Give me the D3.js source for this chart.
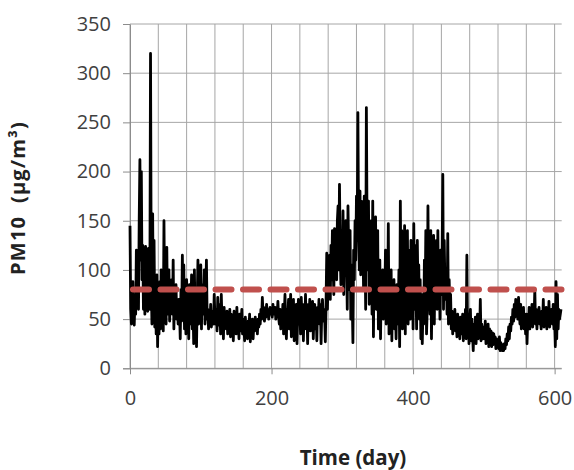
<!DOCTYPE html>
<html>
<head>
<meta charset="utf-8">
<script src="https://cdn.jsdelivr.net/npm/d3@7"></script>
<style>
  body { margin: 0; background: #fff; }
  svg { display: block; font-family: "Open Sans", sans-serif; }
</style>
</head>
<body>
<svg id="chart" width="574" height="470"></svg>
<script>
// daily PM10, day 0 .. 609 (20 days per row)
const pm10 = [
  145, 60, 45, 50, 88, 48, 44, 70, 55, 120, 65, 95, 60, 150, 212, 110, 200, 90, 125, 60,
  118, 55, 124, 70, 100, 58, 122, 80, 60, 320, 90, 45, 157, 60, 130, 42, 80, 35, 95, 22,
  70, 35, 88, 40, 100, 50, 75, 38, 150, 60, 95, 45, 123, 55, 80, 100, 48, 70, 60, 90,
  55, 110, 40, 75, 60, 85, 50, 65, 45, 70, 58, 30, 80, 48, 115, 60, 105, 40, 72, 35,
  90, 50, 78, 30, 85, 45, 60, 95, 40, 65, 25, 100, 48, 80, 22, 70, 110, 45, 90, 60,
  105, 40, 85, 55, 70, 100, 45, 75, 110, 50, 60, 40, 55, 48, 65, 42, 50, 58, 45, 75,
  52, 45, 60, 38, 72, 50, 44, 65, 35, 75, 48, 55, 30, 62, 45, 50, 40, 58, 35, 52,
  45, 60, 32, 55, 40, 48, 28, 58, 42, 50, 35, 62, 40, 47, 30, 55, 38, 45, 60, 35,
  50, 40, 28, 52, 35, 45, 30, 48, 38, 55, 27, 42, 35, 50, 30, 45, 38, 52, 40, 48,
  35, 50, 42, 55, 45, 60, 50, 72, 55, 62, 48, 58, 52, 65, 55, 60, 50, 58, 62, 55,
  60, 52, 65, 55, 58, 62, 50, 60, 55, 68, 52, 45, 60, 40, 58, 48, 65, 35, 55, 75,
  45, 30, 60, 50, 70, 40, 55, 75, 32, 62, 45, 70, 28, 58, 48, 65, 25, 55, 70, 45,
  60, 35, 72, 50, 65, 28, 58, 45, 75, 40, 60, 25, 65, 50, 70, 38, 62, 45, 68, 30,
  55, 65, 40, 60, 28, 62, 50, 70, 45, 65, 25, 58, 70, 48, 60, 55, 27, 65, 117, 60,
  95, 80, 115, 70, 125, 90, 140, 105, 75, 142, 110, 130, 90, 150, 165, 100, 187, 120, 85, 140,
  100, 160, 75, 130, 95, 150, 110, 60, 165, 120, 80, 140, 50, 105, 70, 26, 120, 90, 150, 110,
  175, 130, 260, 140, 100, 180, 95, 170, 120, 150, 80, 175, 130, 60, 265, 140, 100, 170, 65, 130,
  90, 150, 55, 170, 32, 120, 80, 154, 60, 95, 140, 40, 75, 110, 30, 85, 65, 100, 50, 90,
  70, 120, 45, 95, 60, 147, 35, 80, 50, 100, 28, 75, 55, 90, 40, 65, 30, 85, 45, 60,
  100, 22, 170, 60, 140, 40, 120, 80, 145, 35, 110, 60, 140, 45, 90, 120, 50, 130, 70, 100,
  40, 147, 60, 125, 85, 40, 130, 70, 105, 50, 90, 30, 75, 25, 60, 45, 110, 65, 140, 35,
  60, 165, 80, 120, 55, 140, 30, 100, 60, 135, 45, 120, 90, 130, 60, 140, 70, 95, 50, 120,
  75, 110, 197, 60, 130, 85, 70, 100, 55, 137, 45, 90, 60, 75, 40, 58, 35, 50, 42, 60,
  38, 48, 32, 55, 40, 48, 30, 52, 45, 35, 55, 28, 48, 40, 60, 30, 115, 35, 55, 25,
  45, 60, 28, 50, 35, 18, 45, 30, 52, 25, 40, 55, 30, 45, 35, 70, 28, 45, 38, 30,
  42, 30, 48, 25, 40, 30, 45, 22, 40, 28, 38, 22, 36, 24, 35, 26, 32, 20, 30, 24,
  28, 20, 32, 18, 26, 22, 18, 24, 18, 25, 20, 30, 24, 35, 28, 42, 30, 45, 38, 52,
  45, 60, 48, 65, 52, 70, 55, 62, 50, 72, 58, 45, 65, 40, 60, 48, 62, 40, 55, 35,
  55, 25, 50, 45, 62, 40, 55, 48, 65, 42, 58, 50, 80, 45, 60, 40, 55, 48, 62, 45,
  50, 40, 58, 45, 70, 42, 55, 48, 62, 40, 52, 45, 68, 42, 55, 50, 60, 45, 65, 40,
  48, 22, 88, 30, 75, 40, 60, 50, 55, 60
];

const limitValue = 80;   // dashed reference line

const xTicks = [0, 200, 400, 600];
const xGrid = [0, 40, 80, 120, 160, 200, 240, 280, 320, 360, 400, 440, 480, 520, 560, 600];
const yTicks = [0, 50, 100, 150, 200, 250, 300, 350];

const svg = d3.select("#chart");

const plotLeft = 130, plotRight = 561.7, plotTop = 24, plotBottom = 368.3;

const x = d3.scaleLinear().domain([0, 610]).range([plotLeft, plotRight]);
const y = d3.scaleLinear().domain([0, 350]).range([plotBottom, plotTop]);

/* grid */
svg.append("g")
  .selectAll("line")
  .data(yTicks)
  .enter()
  .append("line")
  .attr("x1", plotLeft)
  .attr("x2", plotRight)
  .attr("y1", d => y(d))
  .attr("y2", d => y(d))
  .attr("stroke", "#a6a6a6")
  .attr("stroke-width", 1);

svg.append("g")
  .selectAll("line")
  .data(xGrid)
  .enter()
  .append("line")
  .attr("x1", d => x(d))
  .attr("x2", d => x(d))
  .attr("y1", plotTop)
  .attr("y2", plotBottom)
  .attr("stroke", "#a6a6a6")
  .attr("stroke-width", 1);

/* axes */
const yAxis = svg.append("g")
  .attr("transform", `translate(${plotLeft},0)`)
  .call(d3.axisLeft(y).tickValues(yTicks).tickSizeInner(7).tickSizeOuter(0).tickPadding(12));

const xAxis = svg.append("g")
  .attr("transform", `translate(0,${plotBottom})`)
  .call(d3.axisBottom(x).tickValues(xTicks).tickSizeInner(6).tickSizeOuter(0).tickPadding(17));

[yAxis, xAxis].forEach(g => {
  g.select(".domain").attr("stroke", "#8c8c8c");
  g.selectAll(".tick line").attr("stroke", "#8c8c8c");
  g.selectAll(".tick text")
    .attr("fill", "#404040")
    .style("font-size", "20px")
    .style("font-family", "'Open Sans', sans-serif");
});
xAxis.select(".domain").attr("d", `M${plotLeft - 7},0.5H${plotRight}`);

/* series */
const line = d3.line()
  .x((d, i) => x(i))
  .y(d => y(d));

svg.append("path")
  .datum(pm10)
  .attr("d", line)
  .attr("fill", "none")
  .attr("stroke", "#000")
  .attr("stroke-width", 2.8)
  .attr("stroke-linejoin", "round");

svg.append("line")
  .attr("x1", x(0) + 3)
  .attr("x2", plotRight)
  .attr("y1", y(limitValue))
  .attr("y2", y(limitValue))
  .attr("stroke", "#c0504d")
  .attr("stroke-width", 6)
  .attr("stroke-linecap", "round")
  .attr("stroke-dasharray", "16 11.5");

/* titles */
svg.append("text")
  .attr("transform", "translate(25,198) rotate(-90)")
  .attr("text-anchor", "middle")
  .attr("font-weight", "bold")
  .attr("font-size", "20px")
  .attr("letter-spacing", "1.2px")
  .attr("fill", "#222")
  .attr("xml:space", "preserve")
  .text("PM10  (µg/m³)");

svg.append("text")
  .attr("x", 353)
  .attr("y", 465)
  .attr("text-anchor", "middle")
  .attr("font-weight", "bold")
  .attr("font-size", "20.5px")
  .attr("fill", "#222")
  .text("Time (day)");
</script>
</body>
</html>
